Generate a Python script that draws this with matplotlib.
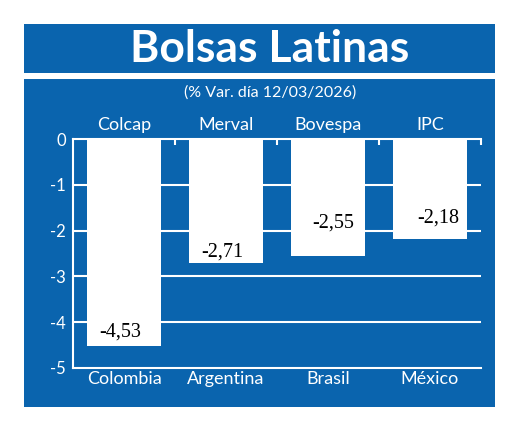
import matplotlib
matplotlib.use("Agg")
import matplotlib.pyplot as plt
from matplotlib.patches import Rectangle

# Data
indices = ["Colcap", "Merval", "Bovespa", "IPC"]
countries = ["Colombia", "Argentina", "Brasil", "México"]
values = [-4.53, -2.71, -2.55, -2.18]
value_labels = ["-4,53", "-2,71", "-2,55", "-2,18"]
yticks = [0, -1, -2, -3, -4, -5]

# Label placement offsets (pixels) relative to bar bottom
lab_dx = [-3.5, -3.5, 5, 8.5]
lab_dy = [14, 11, 33, 21]

BLUE = "#0A64AE"
W, H = 520, 424
fig = plt.figure(figsize=(W / 100, H / 100), dpi=100)
fig.patch.set_facecolor("white")

def fx(px):
    return px / W

def fy(py):
    return 1 - py / H

# Title box and chart box
fig.patches.append(Rectangle((fx(24), fy(73)), fx(495) - fx(24), fy(24) - fy(73),
                             transform=fig.transFigure, facecolor=BLUE, edgecolor="none", zorder=-5))
fig.patches.append(Rectangle((fx(24), fy(407)), fx(495) - fx(24), fy(79) - fy(407),
                             transform=fig.transFigure, facecolor=BLUE, edgecolor="none", zorder=-5))

fig.text(fx(270), fy(49), "Bolsas Latinas", color="white", fontsize=32, fontweight="bold",
         family="Lato", ha="center", va="center")
fig.text(fx(270), fy(93), "(% Var. día 12/03/2026)", color="white", fontsize=11.5,
         family="Lato", ha="center", va="center")

ax = fig.add_axes([fx(73), fy(368), fx(481) - fx(73), fy(139) - fy(368)])
ax.set_facecolor("none")
ax.set_zorder(2)
x = list(range(len(values)))
ax.bar(x, values, width=0.735, color="white", zorder=3)
ax.set_xlim(-0.5, 3.5)
ax.set_ylim(-5, 0)

for yv in yticks[1:-1]:
    ax.axhline(yv, color="white", lw=1.5, zorder=1)

for s in ["right"]:
    ax.spines[s].set_visible(False)
for s in ["left", "bottom", "top"]:
    ax.spines[s].set_color("white")
    ax.spines[s].set_linewidth(1.5)

ax.set_yticks(yticks)
ax.set_yticklabels([str(v) for v in yticks], color="white", fontsize=12, family="Lato")
ax.tick_params(axis="y", length=0, pad=5)

ax.set_xticks(x)
ax.set_xticklabels(countries, color="white", fontsize=13, family="Lato")
ax.tick_params(axis="x", which="major", length=0, pad=2)
ax.set_xticks([0.5, 1.5, 2.5, 3.5], minor=True)
ax.tick_params(axis="x", which="minor", top=True, bottom=False, direction="in",
               length=4, width=1.5, color="white")

sec = ax.secondary_xaxis("top")
sec.set_xticks(x)
sec.set_xticklabels(indices, color="white", fontsize=13, family="Lato")
sec.tick_params(length=0, pad=4)
sec.spines["top"].set_visible(False)

for i, v in enumerate(values):
    ax.annotate(value_labels[i], (x[i], v), xytext=(lab_dx[i], lab_dy[i]),
                textcoords="offset pixels", ha="center", va="center",
                fontsize=14.5, family="Liberation Serif", color="black", zorder=5)

fig.savefig("out.png", dpi=100)
